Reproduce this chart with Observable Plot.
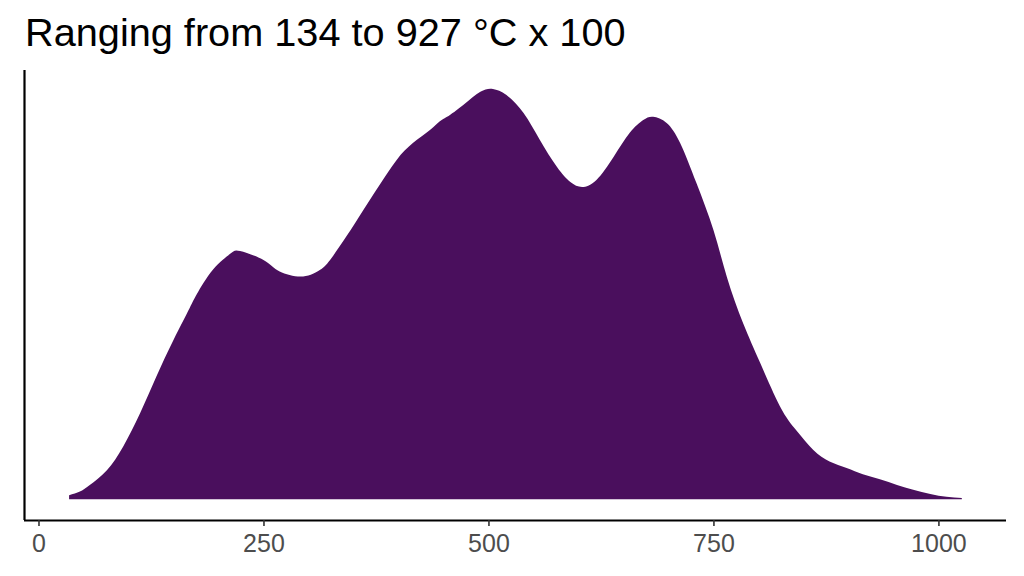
<!DOCTYPE html>
<html>
<head>
<meta charset="utf-8">
<script src="https://cdn.jsdelivr.net/npm/d3@7"></script>
<script src="https://cdn.jsdelivr.net/npm/@observablehq/plot@0.6"></script>
<style>
  html, body { margin: 0; padding: 0; background: #fff; }
  #title { height: 60px; font-family: "Liberation Sans", Arial, sans-serif; font-size: 39.7px; color: #000; padding-left: 25px; line-height: 64px; white-space: nowrap; overflow: hidden; }
  #chart svg { display: block; }
</style>
</head>
<body>
<div id="title">Ranging from 134 to 927 °C x 100</div>
<div id="chart"></div>
<script>
// temperature (°C x 100 scale as on the axis)
const temps = [34, 46, 57, 76, 94, 113, 131, 150, 168, 176, 194, 213, 224, 250, 268, 294, 313, 324, 342, 361, 379, 398, 416, 435, 446, 454, 472, 491, 505, 520, 539, 557, 576, 591, 604, 620, 639, 657, 672, 683, 698, 713, 731, 750, 765, 783, 802, 824, 842, 861, 879, 898, 916, 935, 954, 972, 991, 1009, 1026];
// relative density (peak = 1)
const density = [0.010, 0.019, 0.035, 0.071, 0.128, 0.210, 0.299, 0.388, 0.466, 0.500, 0.560, 0.598, 0.605, 0.583, 0.555, 0.543, 0.559, 0.583, 0.640, 0.705, 0.766, 0.827, 0.868, 0.900, 0.921, 0.932, 0.961, 0.993, 1.000, 0.985, 0.941, 0.876, 0.810, 0.773, 0.761, 0.778, 0.834, 0.893, 0.924, 0.932, 0.917, 0.868, 0.771, 0.656, 0.541, 0.429, 0.332, 0.226, 0.168, 0.120, 0.092, 0.076, 0.061, 0.049, 0.035, 0.023, 0.013, 0.006, 0.003];
const xTicks = [0, 250, 500, 750, 1000];

const data = temps.map((t, i) => ({t, d: density[i]}));
const xDomain = [-16.1, 1075.1];
const yDomain = [-0.0505, 1.046];

const chart = Plot.plot({
  width: 1024,
  height: 516,
  marginTop: 10,
  marginBottom: 56,
  marginLeft: 24,
  marginRight: 18,
  style: {fontFamily: "'Liberation Sans', Arial, sans-serif", background: "#fff"},
  x: {domain: xDomain},
  y: {domain: yDomain},
  marks: [
    Plot.areaY(data, {x: "t", y: "d", fill: "#4A0F5D", curve: "natural"}),
    Plot.ruleY([yDomain[0]], {stroke: "#000", strokeWidth: 2.2}),
    Plot.ruleX([xDomain[0]], {stroke: "#000", strokeWidth: 2.2}),
    Plot.axisX({ticks: xTicks, tickSize: 6, tickPadding: 8, fontSize: 25, color: "#4D4D4D", stroke: "#333", strokeWidth: 1.6, tickFormat: d => String(d), label: null}),
    Plot.axisY({ticks: [], label: null})
  ]
});
document.getElementById("chart").appendChild(chart);
</script>
</body>
</html>
